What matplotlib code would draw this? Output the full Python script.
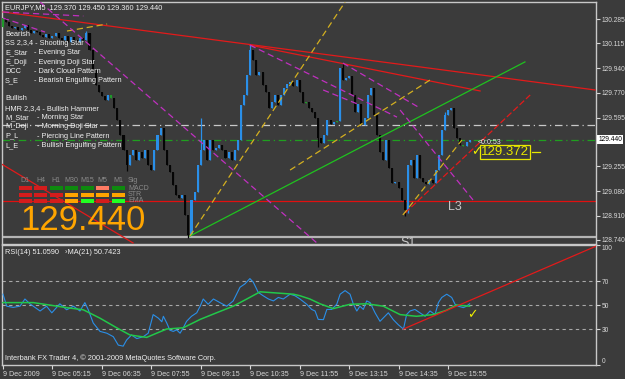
import numpy as np
import matplotlib.pyplot as plt
from matplotlib.patches import Rectangle

plt.rcParams['font.family'] = ['Liberation Sans', 'DejaVu Sans']

BG = '#3b3b3b'
FG = '#d8d8d8'

######## EURJPY M5 candles, 9 Dec 2009 (03:55 .. 16:30) ########

first_open = 130.229
closes = [130.292, 130.264, 130.236, 130.222, 130.229, 130.208, 130.222, 130.243, 130.208, 130.187,
          130.201, 130.194, 130.173, 130.159, 130.180, 130.152, 130.166, 130.187, 130.152, 130.138,
          130.166, 130.124, 130.159, 130.138, 130.124, 130.152, 130.138, 130.187, 130.068, 129.928,
          129.824, 129.775, 129.747, 129.719, 129.754, 129.733, 129.663, 129.579, 129.474, 129.369,
          129.264, 129.334, 129.369, 129.299, 129.355, 129.313, 129.369, 129.264, 129.229, 129.369,
          129.474, 129.523, 129.369, 129.264, 129.215, 129.124, 129.055, 129.034, 129.055, 128.915,
          128.775, 129.020, 129.075, 129.264, 129.369, 129.439, 129.299, 129.439, 129.369, 129.383,
          129.404, 129.369, 129.313, 129.355, 129.299, 129.369, 129.439, 129.684, 129.754, 129.894,
          130.068, 129.998, 129.894, 129.914, 129.824, 129.775, 129.663, 129.705, 129.754, 129.684,
          129.754, 129.803, 129.831, 129.845, 129.817, 129.859, 129.775, 129.698, 129.705, 129.663,
          129.635, 129.593, 129.453, 129.418, 129.474, 129.579, 129.551, 129.565, 129.572, 129.942,
          129.859, 129.873, 129.887, 129.754, 129.635, 129.691, 129.544, 129.593, 129.754, 129.803,
          129.614, 129.474, 129.355, 129.299, 129.439, 129.243, 129.138, 129.145, 129.103, 129.020,
          128.950, 129.264, 129.299, 129.173, 129.334, 129.173, 129.145, 129.131, 129.159, 129.138,
          129.229, 129.334, 129.509, 129.614, 129.649, 129.663, 129.523, 129.453, 129.404, 129.397,
          129.425, 129.440]

# bars with a visible wick: bar -> (high, low)
wicks = {27: (130.201, None), 60: (None, 128.754), 64: (129.593, None), 80: (130.103, None),
         110: (129.977, None), 130: (None, 128.908), 131: (None, 128.929), 143: (129.635, None),
         40: (None, 129.222), 102: (None, 129.390)}
doji_bars = [0, 35, 98, 108, 149]

time_ticks = [0, 16, 32, 48, 64, 80, 96, 112, 128, 144]
time_labels = ['9 Dec 2009', '9 Dec 05:15', '9 Dec 06:35', '9 Dec 07:55', '9 Dec 09:15',
               '9 Dec 10:35', '9 Dec 11:55', '9 Dec 13:15', '9 Dec 14:35', '9 Dec 15:55']
price_ticks = [130.285, 130.115, 129.940, 129.770, 129.595, 129.255, 129.080, 128.910, 128.740]
last_price = 129.440

######## RSI(14) and its MA(21) ########

rsi_idx = [0, 1.2, 3.3, 5.5, 7.1, 8.7, 9.8, 12, 14.1, 15.8, 18.4, 20.6, 22.8, 24.9, 26.5, 27.6,
           29.2, 31.4, 33.6, 35.7, 37.3, 38.9, 40, 41.6, 43.3, 45.4, 47, 48.6, 50.3, 51.4, 51.9,
           53, 54, 55.1, 56.2, 57.3, 58.3, 59.4, 61, 62.7, 63.8, 64.8, 66.4, 68.1, 70.2, 72.4,
           74.5, 76.7, 78.3, 79.9, 81, 82.6, 84.2, 85.9, 87.5, 89.1, 90.7, 92.9, 94.5, 96.1,
           98.3, 99.9, 101, 102, 103.7, 104.8, 106.4, 108, 109.1, 110.7, 112.3, 113.4, 114.5,
           115.5, 116.6, 117.7, 118.8, 120.4, 122, 123.1, 124.7, 126.3, 127.9, 129.6, 130.6,
           131.7, 133.3, 134.9, 136.6, 138.2, 139.8, 140.9, 142, 143.6, 145.2, 146.3, 147.3,
           149, 150, 151]
rsi_val = [59, 49, 48, 49, 55, 51, 49, 45, 49, 43.5, 51, 46, 49, 45, 52, 46,
           35, 28, 26.5, 23.6, 16.6, 15.7, 20.8, 25, 22, 23.6, 26.5, 42, 39, 36, 40.6,
           35, 29, 28, 29.3, 26.5, 30.8, 36.4, 40.6, 43.5, 49, 55, 50.6, 55, 52, 49,
           53.4, 64.8, 67.6, 72, 69, 60.5, 57.7, 55, 53.4, 56.3, 55, 59, 57.7, 55,
           50.6, 46.3, 45, 38, 37.8, 46.3, 46.3, 50.6, 59, 62, 59, 50.6, 45,
           49, 46.3, 53.4, 52, 43.5, 36.4, 39.3, 43.5, 37.8, 33.6, 29.9, 42,
           45, 46.3, 43.5, 40.6, 45, 42, 52, 56.3, 59, 56.3, 50.6, 49,
           47.8, 49, 51]
ma_idx = [0, 9.8, 20.6, 26, 31.4, 36.8, 41.1, 46.5, 49.7, 53, 58.3, 63.8, 69.1, 74.5, 78.9,
          83.2, 88.6, 94, 96.1, 99.3, 102.6, 106.9, 112.3, 117.7, 123.1, 128.5, 133.8, 139.2,
          143.5, 146.7, 151]
ma_val = [52, 52, 47.8, 46, 39, 31, 25, 23, 26.5, 30, 31, 38, 43.5, 49, 55,
          61, 60, 59, 57.7, 55, 51, 47, 50.6, 51, 49, 42, 40.6, 42,
          45.6, 50, 49]

######## objects drawn on the chart (bar0, price0, bar1, price1) ########

red_lines = [(0, 130.334, 191.6, 129.789), (79.9, 130.103, 154.4, 129.782),
             (-1, 129.278, 42.1, 128.719)]
red_dash_lines = [(130.1, 128.929, 170.6, 129.754)]
green_lines = [(60.5, 128.768, 168.9, 129.985)]
yellow_lines = [(60.5, 128.768, 110.7, 130.404), (20.7, 130.201, 33.7, 130.250),
                (92.9, 129.229, 138.2, 129.859), (129.4, 128.915, 148.5, 129.439)]
magenta_lines = [(12, 130.404, 101.6, 128.719), (0, 130.334, 26, 130.306),
                 (0, 130.292, 13.6, 130.194), (79.9, 130.103, 127.5, 129.599),
                 (110, 129.977, 134.9, 129.663), (103.6, 129.789, 115.5, 129.684),
                 (128.5, 129.649, 152.1, 129.020)]
h_gray = 129.544
h_red = 129.013
s1_level = 128.761
rsi_red = (129.6, 30, 191.9, 99)

# multi timeframe signal box
tf_labels = ['D1', 'H4', 'H1', 'M30', 'M15', 'M5', 'M1']
row_labels = ['MACD', 'STR', 'EMA']
macd_colors = ['#d41c1c', '#d41c1c', '#0e8a0e', '#0e8a0e', '#0e8a0e', '#ff7b63', '#0e8a0e']
str_colors = ['#d41c1c', '#d41c1c', '#d41c1c', '#ffa500', '#ffa500', '#ffa500', '#ffa500']
ema_colors = ['#d41c1c', '#d41c1c', '#d41c1c', '#ffa500', '#22ff22', '#d41c1c', '#22ff22']

bearish = [('Bearish', ''), ('SS 2,3,4 - Shooting Star', ''), ('E_Star', '- Evening Star'),
           ('E_Doji', '- Evening Doji Star'), ('DCC', '- Dark Cloud Pattern'),
           ('S_E', '- Bearish Engulfing Pattern')]
bullish = [('Bullish', ''), ('HMR 2,3,4 - Bullish Hammer', ''), ('M_Star', '- Morning Star'),
           ('M_Doji', '- Morning Doji Star'), ('P_L', '- Piercing Line Pattern'),
           ('L_E', '- Bullish Engulfing Pattern')]

######## figure ########

fig = plt.figure(figsize=(6.25, 3.79), dpi=100, facecolor=BG)
ax = fig.add_axes([2 / 625, 1 - 244 / 379, 594 / 625, 242 / 379], facecolor=BG)
ax2 = fig.add_axes([2 / 625, 1 - 365 / 379, 594 / 625, 120 / 379], facecolor=BG)

xlim = (-0.32, 191.9)
for a in (ax, ax2):
    a.set_xlim(*xlim)
    for s in a.spines.values():
        s.set_color('#c8c8c8')
        s.set_linewidth(1)
    a.yaxis.tick_right()
    a.tick_params(axis='y', colors=FG, labelsize=4.8, length=3, width=0.8, pad=1)

ax.set_ylim(128.712, 130.404)

# candles
n = len(closes)
idx = np.arange(n)
opens = np.array([first_open] + closes[:-1])
cl = np.array(closes)
lo = np.minimum(opens, cl)
hi = np.maximum(opens, cl)
body = np.maximum(hi - lo, 0.007)
cols = np.where(cl >= opens, '#2a8fe8', '#050505').astype(object)
for b in doji_bars:
    cols[b] = '#1f9a2a'
wick_hi = hi.copy()
wick_lo = lo.copy()
for b, (h, l) in wicks.items():
    if h is not None:
        wick_hi[b] = h
    if l is not None:
        wick_lo[b] = l
ax.vlines(idx, wick_lo, wick_hi, colors=list(cols), lw=0.9, zorder=3)
ax.bar(idx, body, bottom=lo, width=0.66, color=list(cols), linewidth=0, zorder=3)

# horizontal levels
ax.axhline(h_gray, color='#c8c8c8', lw=0.9, ls=(0, (6, 3, 1, 3)), zorder=2)
ax.axhline(last_price, color='#1fa01f', lw=0.9, ls=(0, (6, 3, 1, 3)), zorder=2)
ax.axhline(h_red, color='#e01010', lw=0.9, zorder=2)
ax.axhline(s1_level, color='#b4b4b4', lw=1.6, zorder=2)

def seg(lines, color, ls='-', lw=0.9):
    for x0, y0, x1, y1 in lines:
        ax.plot([x0, x1], [y0, y1], color=color, ls=ls, lw=lw, zorder=4)

seg(red_lines, '#e31a1a')
seg(red_dash_lines, '#e31a1a', ls=(0, (5, 2)))
seg(green_lines, '#1fc21f')
seg(yellow_lines, '#d4b020', ls=(0, (5, 3)))
seg(magenta_lines, '#c030c0', ls=(0, (5, 3)))

ax.set_xticks([])
ax.set_yticks(price_ticks)
ax.set_yticklabels([f'{p:.3f}' for p in price_ticks])
ax.text(1.004, last_price, f'{last_price:.3f}', transform=ax.get_yaxis_transform(),
        fontsize=4.8, color='black', va='center', ha='left',
        bbox=dict(boxstyle='square,pad=0.15', fc='white', ec='none'), zorder=6, clip_on=False)

# RSI panel
ax2.set_ylim(0, 100)
for lev in (70, 50, 30):
    ax2.axhline(lev, color='#a8a8a8', lw=0.8, ls=(0, (3, 3)))
ax2.plot(rsi_idx, rsi_val, color='#2a8fe8', lw=0.8, zorder=3)
ax2.plot(ma_idx, ma_val, color='#22c84a', lw=1.1, zorder=4)
ax2.plot([rsi_red[0], rsi_red[2]], [rsi_red[1], rsi_red[3]], color='#e31a1a', lw=0.9, zorder=5)
ax2.text(152, 42, '\u2713', color='#f0f000', fontsize=9, ha='center', va='center',
         family='DejaVu Sans', zorder=6)
ax2.set_yticks([100, 70, 50, 30, 0])
ax2.set_yticklabels(['100', '70', '50', '30', '0'])
ylabs = ax2.get_yticklabels()
ylabs[0].set_va('top')
ylabs[-1].set_va('bottom')
ax2.set_xticks(time_ticks)
ax2.set_xticklabels(time_labels)
ax2.tick_params(axis='x', colors=FG, labelsize=5.1, length=3, width=0.8, pad=1)
for lbl in ax2.get_xticklabels():
    lbl.set_ha('left')

######## text overlays (pixel coordinates) ########

ov = fig.add_axes([0, 0, 1, 1], facecolor='none')
ov.set_xlim(0, 625)
ov.set_ylim(379, 0)
ov.axis('off')

def t(x, y, s, **kw):
    kw.setdefault('fontsize', 5.3)
    kw.setdefault('color', '#f0f0f0')
    ov.text(x, y, s, va='center', ha=kw.pop('ha', 'left'), **kw)

t(5, 8, 'EURJPY,M5  129.370 129.450 129.360 129.440')
for i, (a, b) in enumerate(bearish):
    t(5, 34 + i * 9.4, a)
    if b:
        t(34, 34 + i * 9.4, b)
for i, (a, b) in enumerate(bullish):
    t(5, 99 + i * 9.3, a)
    if b:
        t(37, 99 + i * 9.3, b)

for j, lab in enumerate(tf_labels):
    cx = 25 + j * 15.5
    t(cx, 181, lab, ha='center', color='#8a8a8a', fontsize=5.0)
    for r, row in enumerate((macd_colors, str_colors, ema_colors)):
        ov.add_patch(Rectangle((cx - 6.5, 186 + r * 6.5), 13, 4, color=row[j], lw=0))
t(128, 181, 'Sig', color='#8a8a8a', fontsize=5.0)
for r, lab in enumerate(row_labels):
    t(128, 188 + r * 6.5, lab, color='#8a8a8a', fontsize=5.0)

t(20, 220, f'{last_price:.3f}', color='#ffa500', fontsize=25)

t(478, 142, '<0:0:53', fontsize=5.0)
t(481, 152, '129.372', color='#e8e800', fontsize=9.5,
  bbox=dict(boxstyle='square,pad=0.1', fc='none', ec='#e8e800', lw=0.9))
ov.plot([532, 540], [152, 152], color='#e8e800', lw=0.9)
t(476, 152, '\u2713', color='#f0f000', fontsize=9, ha='center', family='DejaVu Sans')
t(448, 207, 'L3', color='#c8c8c8', fontsize=9)
t(400, 243, 'S1', color='#c8c8c8', fontsize=9)

t(5, 253, 'RSI(14) 51.0590   \u203aMA(21) 50.7423')
t(5, 358, 'Interbank FX Trader 4, \u00a9 2001-2009 MetaQuotes Software Corp.')

fig.savefig('out.png', dpi=100, facecolor=BG)
